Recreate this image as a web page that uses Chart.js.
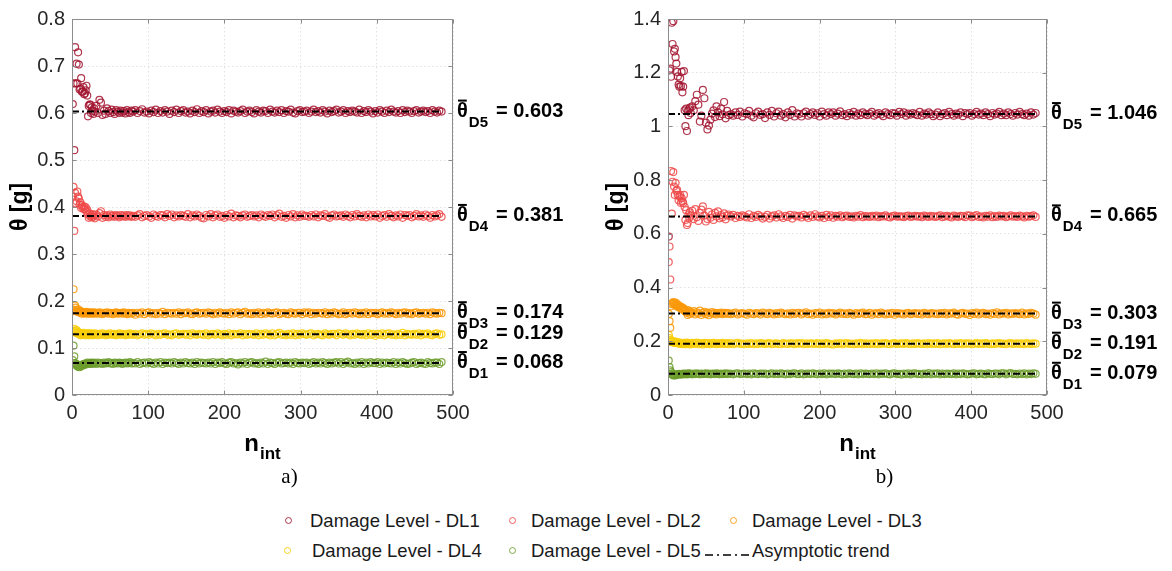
<!DOCTYPE html>
<html>
<head>
<meta charset="utf-8">
<script src="https://cdn.jsdelivr.net/npm/chart.js@4.4.1/dist/chart.umd.min.js"></script>
<style>
  html, body { margin: 0; padding: 0; background: #fff; }
  #page { position: relative; width: 1172px; height: 571px; overflow: hidden; }
  canvas { position: absolute; top: 0; }
  #chartA { left: 0; }
  #chartB { left: 596px; }
  .lg-mark { position: absolute; width: 5px; height: 5px; border: 1.2px solid; border-radius: 50%; }
  .lg-text { position: absolute; font: 18.5px "Liberation Sans", Arial, sans-serif; color: #1a1a1a; line-height: 20px; white-space: nowrap; }
  .lg-line { position: absolute; }
</style>
</head>
<body>
<div id="page">
  <canvas id="chartA" width="596" height="500"></canvas>
  <canvas id="chartB" width="576" height="500"></canvas>
  <div id="legend"></div>
</div>
<script>
// number of integration points (x values shared by every series)
const nInt = [
  1,2,3,4,5,6,7,8,9,10,11,12,13,14,15,16,17,18,19,20,21,22,23,24,25,26,27,28,29,30,
  32,34,36,38,40,42,44,46,48,50,52,54,56,58,60,62,64,66,68,70,72,74,76,78,80,
  83,86,89,92,95,98,101,104,107,110,113,116,119,122,125,
  128,131,134,137,140,143,146,149,152,155,158,161,164,167,170,
  173,176,179,182,185,188,191,194,197,200,203,206,209,212,215,
  218,221,224,227,230,233,236,239,242,245,248,251,254,257,260,
  263,266,269,272,275,278,281,284,287,290,293,296,299,302,305,
  308,311,314,317,320,323,326,329,332,335,338,341,344,347,350,
  353,356,359,362,365,368,371,374,377,380,383,386,389,392,395,
  398,401,404,407,410,413,416,419,422,425,428,431,434,437,440,
  443,446,449,452,455,458,461,464,467,470,473,476,479,482,485
];

const levelNames = ['Damage Level - DL1', 'Damage Level - DL2', 'Damage Level - DL3', 'Damage Level - DL4', 'Damage Level - DL5'];
const levelColors = ['rgba(162,20,47,0.85)', 'rgba(238,72,72,0.85)', 'rgba(250,152,8,0.88)', 'rgba(248,206,10,0.9)', 'rgba(108,156,44,0.85)'];

// panel a) running estimates, theta [g]
const thetaA1 = [
  0.619,0.663,0.521,0.740,0.663,0.705,0.663,0.729,0.703,0.650,0.652,0.674,0.645,0.646,0.655,0.640,0.642,0.648,0.658,0.637,
  0.593,0.615,0.618,0.618,0.600,0.612,0.605,0.598,0.610,0.603,
  0.615,0.600,0.628,0.622,0.596,0.605,0.598,0.610,0.604,0.600,0.607,0.602,0.598,0.606,0.603,0.600,0.605,0.601,0.604,0.599,
  0.606,0.602,0.600,0.605,0.603,
  0.606,0.600,0.604,0.608,0.601,0.603,0.599,0.605,0.602,0.607,0.600,0.604,0.601,0.606,0.603,
  0.598,0.605,0.602,0.607,0.600,0.604,0.606,0.601,0.603,0.599,0.605,0.602,0.608,0.600,0.604,
  0.602,0.606,0.599,0.603,0.605,0.601,0.607,0.603,0.600,0.604,0.602,0.606,0.599,0.605,0.603,
  0.601,0.604,0.607,0.600,0.603,0.605,0.602,0.599,0.606,0.603,0.601,0.605,0.604,0.600,0.607,
  0.603,0.601,0.605,0.602,0.606,0.600,0.604,0.603,0.607,0.601,0.599,0.604,0.606,0.602,0.603,
  0.605,0.600,0.603,0.607,0.602,0.604,0.601,0.606,0.603,0.599,0.605,0.602,0.604,0.607,0.601,
  0.603,0.606,0.600,0.604,0.602,0.605,0.603,0.601,0.607,0.600,0.604,0.602,0.606,0.603,0.599,
  0.604,0.601,0.606,0.603,0.600,0.605,0.602,0.607,0.603,0.601,0.604,0.600,0.606,0.602,0.605,
  0.603,0.600,0.604,0.606,0.601,0.603,0.605,0.602,0.604,0.600,0.606,0.603,0.601,0.605,0.603
];
const thetaA2 = [
  0.422,0.443,0.349,0.430,0.408,0.412,0.433,0.422,0.418,0.405,0.410,0.398,0.404,0.400,0.396,0.401,0.395,0.399,0.390,0.394,
  0.384,0.377,0.386,0.380,0.383,0.378,0.385,0.379,0.382,0.376,
  0.384,0.380,0.387,0.391,0.377,0.383,0.379,0.382,0.378,0.384,0.380,0.382,0.379,0.383,0.381,0.378,0.383,0.380,0.382,0.379,
  0.383,0.380,0.382,0.379,0.381,
  0.379,0.382,0.385,0.378,0.381,0.383,0.380,0.377,0.384,0.381,0.379,0.383,0.382,0.378,0.385,
  0.381,0.384,0.378,0.382,0.380,0.383,0.381,0.379,0.385,0.378,0.382,0.380,0.384,0.381,0.377,
  0.376,0.383,0.380,0.385,0.378,0.382,0.384,0.379,0.381,0.377,0.383,0.380,0.386,0.378,0.382,
  0.381,0.378,0.382,0.384,0.379,0.381,0.383,0.380,0.382,0.378,0.384,0.381,0.379,0.383,0.381,
  0.384,0.378,0.382,0.386,0.379,0.381,0.377,0.383,0.380,0.385,0.378,0.382,0.379,0.384,0.381,
  0.381,0.379,0.383,0.380,0.384,0.378,0.382,0.381,0.385,0.379,0.377,0.382,0.384,0.380,0.381,
  0.382,0.379,0.384,0.381,0.378,0.383,0.380,0.385,0.381,0.379,0.382,0.378,0.384,0.380,0.383,
  0.380,0.384,0.377,0.381,0.383,0.379,0.385,0.381,0.378,0.382,0.380,0.384,0.377,0.383,0.381,
  0.383,0.378,0.381,0.385,0.380,0.382,0.379,0.384,0.381,0.377,0.383,0.380,0.382,0.385,0.379
];
const thetaA3 = [
  0.178,0.225,0.181,0.190,0.186,0.180,0.177,0.182,0.176,0.179,0.175,0.178,0.173,0.177,0.175,0.176,0.173,0.175,0.177,0.174,
  0.176,0.173,0.175,0.174,0.176,0.173,0.175,0.174,0.176,0.173,
  0.175,0.173,0.176,0.174,0.172,0.175,0.174,0.176,0.173,0.175,0.174,0.172,0.175,0.176,0.173,0.174,0.175,0.173,0.176,0.174,
  0.172,0.175,0.174,0.173,0.175,
  0.171,0.175,0.173,0.176,0.172,0.175,0.176,0.173,0.174,0.172,0.175,0.173,0.177,0.172,0.175,
  0.174,0.173,0.175,0.173,0.176,0.172,0.175,0.174,0.176,0.173,0.172,0.175,0.176,0.173,0.174,
  0.175,0.173,0.176,0.174,0.172,0.175,0.173,0.176,0.174,0.173,0.175,0.172,0.176,0.173,0.175,
  0.176,0.172,0.175,0.177,0.173,0.174,0.172,0.175,0.173,0.176,0.172,0.175,0.173,0.176,0.174,
  0.173,0.175,0.176,0.172,0.174,0.175,0.173,0.172,0.176,0.174,0.173,0.175,0.175,0.172,0.176,
  0.174,0.176,0.172,0.175,0.173,0.175,0.174,0.173,0.176,0.172,0.175,0.173,0.176,0.174,0.172,
  0.173,0.176,0.172,0.174,0.175,0.173,0.176,0.174,0.172,0.175,0.173,0.176,0.172,0.175,0.174,
  0.175,0.172,0.174,0.176,0.173,0.175,0.173,0.176,0.174,0.172,0.175,0.173,0.175,0.176,0.173,
  0.174,0.172,0.175,0.176,0.173,0.174,0.175,0.173,0.175,0.172,0.176,0.174,0.173,0.175,0.174
];
const thetaA4 = [
  0.134,0.137,0.141,0.136,0.133,0.138,0.131,0.134,0.130,0.132,0.127,0.131,0.128,0.130,0.132,0.128,0.130,0.127,0.131,0.129,
  0.131,0.127,0.130,0.128,0.131,0.129,0.127,0.130,0.128,0.131,
  0.129,0.127,0.130,0.128,0.131,0.129,0.127,0.130,0.128,0.131,0.129,0.128,0.130,0.127,0.129,0.131,0.128,0.130,0.129,0.127,
  0.130,0.128,0.131,0.129,0.128,
  0.130,0.127,0.129,0.131,0.128,0.130,0.128,0.131,0.129,0.127,0.130,0.128,0.130,0.131,0.128,
  0.129,0.127,0.130,0.131,0.128,0.129,0.130,0.128,0.130,0.127,0.131,0.129,0.128,0.130,0.129,
  0.128,0.131,0.127,0.129,0.130,0.128,0.131,0.129,0.127,0.130,0.128,0.131,0.127,0.130,0.129,
  0.129,0.131,0.127,0.130,0.128,0.130,0.129,0.128,0.131,0.127,0.130,0.128,0.131,0.129,0.127,
  0.131,0.127,0.130,0.132,0.128,0.129,0.127,0.130,0.128,0.131,0.127,0.130,0.128,0.131,0.129,
  0.128,0.130,0.131,0.127,0.129,0.130,0.128,0.127,0.131,0.129,0.128,0.130,0.130,0.127,0.131,
  0.130,0.128,0.131,0.129,0.127,0.130,0.128,0.131,0.129,0.128,0.130,0.127,0.131,0.128,0.130,
  0.126,0.130,0.128,0.131,0.127,0.130,0.131,0.128,0.129,0.127,0.130,0.128,0.132,0.127,0.130,
  0.129,0.128,0.130,0.128,0.131,0.127,0.130,0.129,0.131,0.128,0.127,0.130,0.131,0.128,0.129
];
const thetaA5 = [
  0.074,0.105,0.082,0.068,0.064,0.066,0.061,0.060,0.063,0.059,0.062,0.061,0.064,0.063,0.066,0.064,0.067,0.065,0.066,0.069,
  0.067,0.066,0.068,0.067,0.069,0.066,0.068,0.067,0.069,0.068,
  0.066,0.069,0.067,0.068,0.066,0.069,0.067,0.068,0.070,0.067,0.068,0.066,0.069,0.068,0.067,0.069,0.068,0.066,0.068,0.069,
  0.067,0.068,0.070,0.067,0.068,
  0.067,0.070,0.066,0.068,0.069,0.067,0.070,0.068,0.066,0.069,0.067,0.070,0.066,0.069,0.068,
  0.069,0.067,0.070,0.068,0.066,0.069,0.067,0.070,0.068,0.067,0.069,0.066,0.070,0.067,0.069,
  0.068,0.067,0.069,0.067,0.070,0.066,0.069,0.068,0.070,0.067,0.066,0.069,0.070,0.067,0.068,
  0.065,0.069,0.067,0.070,0.066,0.069,0.070,0.067,0.068,0.066,0.069,0.067,0.071,0.066,0.069,
  0.068,0.066,0.069,0.070,0.067,0.068,0.069,0.067,0.069,0.066,0.070,0.068,0.067,0.069,0.068,
  0.069,0.066,0.068,0.070,0.067,0.069,0.067,0.070,0.068,0.066,0.069,0.067,0.069,0.070,0.067,
  0.070,0.066,0.069,0.071,0.067,0.068,0.066,0.069,0.067,0.070,0.066,0.069,0.067,0.070,0.068,
  0.068,0.070,0.066,0.069,0.067,0.069,0.068,0.067,0.070,0.066,0.069,0.067,0.070,0.068,0.066,
  0.067,0.069,0.070,0.066,0.068,0.069,0.067,0.066,0.070,0.068,0.067,0.069,0.069,0.066,0.070
];

// panel b) running estimates, theta [g]
const thetaB1 = [
  0.590,1.209,1.215,1.185,1.386,1.307,1.392,1.279,1.289,1.258,1.234,1.203,1.186,1.156,1.148,1.179,1.150,1.203,1.127,1.148,
  1.206,1.060,1.001,1.066,0.983,1.057,1.042,1.064,1.070,1.050,
  1.075,1.060,1.094,1.118,1.081,1.018,1.040,1.136,1.105,1.014,0.989,1.003,1.025,1.048,1.060,1.035,1.075,1.052,1.038,1.066,
  1.045,1.091,1.030,1.058,1.042,
  1.046,1.040,1.052,1.043,1.055,1.037,1.049,1.046,1.058,1.040,1.034,1.049,1.055,1.043,1.046,
  1.031,1.052,1.043,1.058,1.037,1.049,1.055,1.040,1.046,1.034,1.052,1.043,1.061,1.037,1.049,
  1.046,1.037,1.049,1.055,1.040,1.046,1.052,1.043,1.049,1.037,1.055,1.046,1.040,1.052,1.046,
  1.052,1.040,1.048,1.056,1.042,1.046,1.038,1.050,1.044,1.054,1.040,1.048,1.042,1.052,1.046,
  1.042,1.048,1.054,1.040,1.046,1.050,1.044,1.038,1.052,1.046,1.042,1.050,1.048,1.040,1.054,
  1.046,1.052,1.040,1.048,1.044,1.050,1.046,1.042,1.054,1.040,1.048,1.044,1.052,1.046,1.038,
  1.044,1.052,1.038,1.046,1.050,1.042,1.054,1.046,1.040,1.048,1.044,1.052,1.038,1.050,1.046,
  1.050,1.040,1.046,1.054,1.044,1.048,1.042,1.052,1.046,1.038,1.050,1.044,1.048,1.054,1.042,
  1.048,1.042,1.052,1.046,1.040,1.050,1.044,1.054,1.046,1.042,1.048,1.040,1.052,1.044,1.050
];
const thetaB2 = [
  0.495,0.553,0.430,0.834,0.675,0.794,0.830,0.776,0.745,0.790,0.760,0.764,0.745,0.725,0.739,0.745,0.715,0.733,0.721,0.715,
  0.745,0.700,0.652,0.688,0.633,0.640,0.672,0.660,0.680,0.668,
  0.686,0.655,0.692,0.662,0.648,0.678,0.690,0.702,0.668,0.646,0.655,0.682,0.660,0.672,0.652,0.678,0.665,0.684,0.658,0.670,
  0.662,0.676,0.654,0.668,0.672,
  0.665,0.671,0.659,0.667,0.663,0.669,0.665,0.661,0.673,0.659,0.667,0.663,0.671,0.665,0.657,
  0.663,0.671,0.657,0.665,0.669,0.661,0.673,0.665,0.659,0.667,0.663,0.671,0.657,0.669,0.665,
  0.667,0.661,0.671,0.665,0.659,0.669,0.663,0.673,0.665,0.661,0.667,0.659,0.671,0.663,0.669,
  0.660,0.667,0.664,0.669,0.662,0.666,0.668,0.663,0.665,0.661,0.667,0.664,0.670,0.662,0.666,
  0.665,0.663,0.667,0.664,0.668,0.662,0.666,0.665,0.669,0.663,0.661,0.666,0.668,0.664,0.665,
  0.665,0.662,0.666,0.668,0.663,0.665,0.667,0.664,0.666,0.662,0.668,0.665,0.663,0.667,0.665,
  0.663,0.666,0.669,0.662,0.665,0.667,0.664,0.661,0.668,0.665,0.663,0.667,0.666,0.662,0.669,
  0.668,0.662,0.666,0.670,0.663,0.665,0.661,0.667,0.664,0.669,0.662,0.666,0.663,0.668,0.665,
  0.667,0.662,0.665,0.669,0.664,0.666,0.663,0.668,0.665,0.661,0.667,0.664,0.666,0.669,0.663
];
const thetaB3 = [
  0.302,0.275,0.250,0.330,0.338,0.342,0.346,0.340,0.335,0.344,0.332,0.338,0.328,0.334,0.326,0.330,0.322,0.327,0.318,0.324,
  0.320,0.314,0.310,0.317,0.306,0.298,0.315,0.308,0.302,0.310,
  0.305,0.312,0.300,0.308,0.303,0.314,0.298,0.306,0.310,0.301,0.307,0.297,0.304,0.309,0.302,0.306,0.300,0.305,0.303,0.307,
  0.301,0.304,0.306,0.302,0.305,
  0.301,0.304,0.307,0.300,0.303,0.305,0.302,0.299,0.306,0.303,0.301,0.305,0.304,0.300,0.307,
  0.304,0.301,0.306,0.303,0.300,0.305,0.302,0.307,0.303,0.301,0.304,0.300,0.306,0.302,0.305,
  0.306,0.300,0.304,0.308,0.301,0.303,0.299,0.305,0.302,0.307,0.300,0.304,0.301,0.306,0.303,
  0.305,0.300,0.303,0.307,0.302,0.304,0.301,0.306,0.303,0.299,0.305,0.302,0.304,0.307,0.301,
  0.302,0.306,0.299,0.303,0.305,0.301,0.307,0.303,0.300,0.304,0.302,0.306,0.299,0.305,0.303,
  0.303,0.300,0.304,0.306,0.301,0.303,0.305,0.302,0.304,0.300,0.306,0.303,0.301,0.305,0.303,
  0.303,0.301,0.305,0.302,0.306,0.300,0.304,0.303,0.307,0.301,0.299,0.304,0.306,0.302,0.303,
  0.298,0.305,0.302,0.307,0.300,0.304,0.306,0.301,0.303,0.299,0.305,0.302,0.308,0.300,0.304,
  0.303,0.306,0.300,0.304,0.302,0.305,0.303,0.301,0.307,0.300,0.304,0.302,0.306,0.303,0.299
];
const thetaB4 = [
  0.224,0.212,0.205,0.198,0.202,0.196,0.200,0.194,0.199,0.195,0.198,0.193,0.196,0.192,0.195,0.190,0.194,0.192,0.189,0.193,
  0.191,0.194,0.189,0.192,0.195,0.190,0.193,0.191,0.188,0.192,
  0.194,0.190,0.192,0.195,0.189,0.193,0.191,0.188,0.194,0.192,0.190,0.193,0.189,0.192,0.194,0.191,0.189,0.193,0.190,0.192,
  0.194,0.190,0.191,0.193,0.189,
  0.193,0.189,0.192,0.194,0.190,0.191,0.189,0.192,0.190,0.193,0.189,0.192,0.190,0.193,0.191,
  0.190,0.192,0.193,0.189,0.191,0.192,0.190,0.189,0.193,0.191,0.190,0.192,0.192,0.189,0.193,
  0.191,0.193,0.189,0.192,0.190,0.192,0.191,0.190,0.193,0.189,0.192,0.190,0.193,0.191,0.189,
  0.188,0.192,0.190,0.193,0.189,0.192,0.193,0.190,0.191,0.189,0.192,0.190,0.194,0.189,0.192,
  0.191,0.190,0.192,0.190,0.193,0.189,0.192,0.191,0.193,0.190,0.189,0.192,0.193,0.190,0.191,
  0.192,0.190,0.193,0.191,0.189,0.192,0.190,0.193,0.191,0.190,0.192,0.189,0.193,0.190,0.192,
  0.190,0.193,0.189,0.191,0.192,0.190,0.193,0.191,0.189,0.192,0.190,0.193,0.189,0.192,0.191,
  0.192,0.189,0.191,0.193,0.190,0.192,0.190,0.193,0.191,0.189,0.192,0.190,0.192,0.193,0.190,
  0.191,0.189,0.192,0.193,0.190,0.191,0.192,0.190,0.192,0.189,0.193,0.191,0.190,0.192,0.191
];
const thetaB5 = [
  0.128,0.104,0.092,0.085,0.078,0.075,0.073,0.074,0.076,0.073,0.077,0.075,0.078,0.076,0.079,0.077,0.078,0.076,0.079,0.078,
  0.080,0.077,0.079,0.078,0.080,0.077,0.079,0.081,0.078,0.079,
  0.077,0.080,0.078,0.081,0.079,0.077,0.080,0.078,0.079,0.081,0.078,0.080,0.077,0.079,0.080,0.078,0.081,0.079,0.077,0.080,
  0.078,0.079,0.081,0.078,0.080,
  0.079,0.077,0.080,0.081,0.078,0.079,0.080,0.078,0.080,0.077,0.081,0.079,0.078,0.080,0.079,
  0.080,0.077,0.079,0.081,0.078,0.080,0.078,0.081,0.079,0.077,0.080,0.078,0.080,0.081,0.078,
  0.078,0.081,0.077,0.079,0.080,0.078,0.081,0.079,0.077,0.080,0.078,0.081,0.077,0.080,0.079,
  0.080,0.078,0.081,0.079,0.077,0.080,0.078,0.081,0.079,0.078,0.080,0.077,0.081,0.078,0.080,
  0.079,0.078,0.080,0.078,0.081,0.077,0.080,0.079,0.081,0.078,0.077,0.080,0.081,0.078,0.079,
  0.076,0.080,0.078,0.081,0.077,0.080,0.081,0.078,0.079,0.077,0.080,0.078,0.082,0.077,0.080,
  0.079,0.081,0.077,0.080,0.078,0.080,0.079,0.078,0.081,0.077,0.080,0.078,0.081,0.079,0.077,
  0.078,0.080,0.081,0.077,0.079,0.080,0.078,0.077,0.081,0.079,0.078,0.080,0.080,0.077,0.081,
  0.081,0.077,0.080,0.082,0.078,0.079,0.077,0.080,0.078,0.081,0.077,0.080,0.078,0.081,0.079
];

// asymptotic values, listed from D1 (lowest) to D5
const trendTags = ['D1', 'D2', 'D3', 'D4', 'D5'];
const trendA = [0.068, 0.129, 0.174, 0.381, 0.603];
const trendB = [0.079, 0.191, 0.303, 0.665, 1.046];

const FONT = '"Liberation Sans", Arial, Helvetica, sans-serif';
Chart.defaults.font.family = FONT;

// frame with inward ticks, axis titles, panel letter and the asymptote labels
const panelDecor = {
  id: 'panelDecor',
  afterDraw(chart, args, opts) {
    const { ctx, chartArea: a } = chart;
    const sx = chart.scales.x, sy = chart.scales.y;
    ctx.save();

    ctx.strokeStyle = '#8c8c8c';
    ctx.lineWidth = 1;
    const L = Math.round(a.left) + 0.5, R = Math.round(a.right) - 0.5;
    const T = Math.round(a.top) + 0.5, B = Math.round(a.bottom) - 0.5;
    ctx.strokeRect(L, T, R - L, B - T);
    ctx.beginPath();
    sx.ticks.forEach(t => {
      const px = Math.round(sx.getPixelForValue(t.value)) + 0.5;
      ctx.moveTo(px, B); ctx.lineTo(px, B - 4);
      ctx.moveTo(px, T); ctx.lineTo(px, T + 4);
    });
    sy.ticks.forEach(t => {
      const py = Math.round(sy.getPixelForValue(t.value)) + 0.5;
      ctx.moveTo(L, py); ctx.lineTo(L + 4, py);
      ctx.moveTo(R, py); ctx.lineTo(R - 4, py);
    });
    ctx.stroke();

    ctx.fillStyle = '#000';

    // y title
    ctx.save();
    ctx.translate(a.left - 51, (a.top + a.bottom) / 2);
    ctx.rotate(-Math.PI / 2);
    ctx.font = 'bold 23px ' + FONT;
    ctx.textAlign = 'center';
    ctx.textBaseline = 'middle';
    ctx.fillText('θ [g]', 0, 0);
    ctx.restore();

    // x title n_int
    const mid = (a.left + a.right) / 2;
    ctx.textAlign = 'left';
    ctx.textBaseline = 'alphabetic';
    ctx.font = 'bold 24px ' + FONT;
    const wn = ctx.measureText('n').width;
    ctx.font = 'bold 17px ' + FONT;
    const wi = ctx.measureText('int').width;
    const x0 = mid - (wn + wi + 1) / 2;
    ctx.font = 'bold 24px ' + FONT;
    ctx.fillText('n', x0, a.bottom + 56);
    ctx.font = 'bold 17px ' + FONT;
    ctx.fillText('int', x0 + wn + 1, a.bottom + 64);

    // panel letter
    ctx.font = '21px "Liberation Serif", "Times New Roman", serif';
    ctx.textAlign = 'center';
    ctx.fillText(opts.letter, mid + 27, a.bottom + 88);

    // asymptote labels at the right of the frame
    ctx.textAlign = 'left';
    opts.means.forEach((m, i) => {
      const py = sy.getPixelForValue(m);
      let px = a.right + 4;
      ctx.font = 'bold 20px ' + FONT;
      ctx.fillText('θ', px, py + 5);
      const wt = ctx.measureText('θ').width;
      ctx.fillRect(px + 1, py - 12, wt - 2, 2);
      px += wt + 1;
      ctx.font = 'bold 15px ' + FONT;
      ctx.fillText(opts.tags[i], px, py + 15);
      px += ctx.measureText(opts.tags[i]).width + 8;
      ctx.font = 'bold 20px ' + FONT;
      ctx.fillText('= ' + m.toFixed(3), px, py + 5);
    });

    ctx.restore();
  }
};

function buildDatasets(series, means) {
  const sets = [];
  // dash-dot asymptotes, drawn over the markers
  means.forEach(m => {
    sets.push({
      type: 'line',
      data: [{ x: 0, y: m }, { x: nInt[nInt.length - 1], y: m }],
      borderColor: '#000',
      borderWidth: 2,
      borderDash: [7, 3, 2, 3],
      pointRadius: 0,
      fill: false,
      order: 0
    });
  });
  series.forEach((vals, i) => {
    sets.push({
      label: levelNames[i],
      data: vals.map((v, k) => ({ x: nInt[k], y: v })),
      showLine: false,
      pointStyle: 'circle',
      pointRadius: 3.5,
      pointBorderWidth: 1.2,
      borderColor: levelColors[i],
      backgroundColor: 'rgba(0,0,0,0)',
      order: 1
    });
  });
  return sets;
}

function makePanel(canvasId, series, means, yMax, yStep, letter, padRight) {
  return new Chart(document.getElementById(canvasId), {
    type: 'scatter',
    data: { datasets: buildDatasets(series, means) },
    options: {
      responsive: false,
      animation: false,
      devicePixelRatio: 1,
      layout: { padding: { top: 13, right: padRight, bottom: 70, left: 0 } },
      plugins: {
        legend: { display: false },
        tooltip: { enabled: false },
        panelDecor: { letter: letter, means: means, tags: trendTags }
      },
      scales: {
        x: {
          type: 'linear', min: 0, max: 500,
          ticks: { stepSize: 100, color: '#262626', font: { size: 20 }, padding: 6, maxRotation: 0 },
          grid: { color: '#e2e2e2', drawTicks: false },
          border: { display: false, dash: [1.5, 2.5] },
          afterFit: s => { s.height = 35; }
        },
        y: {
          type: 'linear', min: 0, max: yMax,
          ticks: {
            stepSize: yStep, color: '#262626', font: { size: 20 }, padding: 7,
            callback: v => String(+v.toFixed(2))
          },
          grid: { color: '#e2e2e2', drawTicks: false },
          border: { display: false, dash: [1.5, 2.5] },
          afterFit: s => { s.width = 72; }
        }
      }
    },
    plugins: [panelDecor]
  });
}

makePanel('chartA', [thetaA1, thetaA2, thetaA3, thetaA4, thetaA5], trendA, 0.8, 0.1, 'a)', 143);
makePanel('chartB', [thetaB1, thetaB2, thetaB3, thetaB4, thetaB5], trendB, 1.4, 0.2, 'b)', 125);

// shared legend under both panels
const legend = document.getElementById('legend');
const slots = [
  { mx: 289, tx: 310, y: 521 }, { mx: 513, tx: 531, y: 521 }, { mx: 734, tx: 752, y: 521 },
  { mx: 288, tx: 312, y: 551 }, { mx: 513, tx: 531, y: 551 }
];
levelNames.forEach((name, i) => {
  const s = slots[i];
  const mk = document.createElement('div');
  mk.className = 'lg-mark';
  mk.style.borderColor = levelColors[i];
  mk.style.left = (s.mx - 3.7) + 'px';
  mk.style.top = (s.y - 3.7) + 'px';
  legend.appendChild(mk);
  const tx = document.createElement('div');
  tx.className = 'lg-text';
  tx.textContent = name;
  tx.style.left = s.tx + 'px';
  tx.style.top = (s.y - 10) + 'px';
  legend.appendChild(tx);
});
const trendMark = document.createElement('div');
trendMark.className = 'lg-line';
trendMark.style.left = '705px';
trendMark.style.top = '546px';
trendMark.innerHTML = '<svg width="44" height="10"><line x1="0" y1="5" x2="44" y2="5" stroke="#000" stroke-width="1.3" stroke-dasharray="8,4,2,4"/></svg>';
legend.appendChild(trendMark);
const trendText = document.createElement('div');
trendText.className = 'lg-text';
trendText.textContent = 'Asymptotic trend';
trendText.style.left = '752px';
trendText.style.top = '541px';
legend.appendChild(trendText);
</script>
</body>
</html>
